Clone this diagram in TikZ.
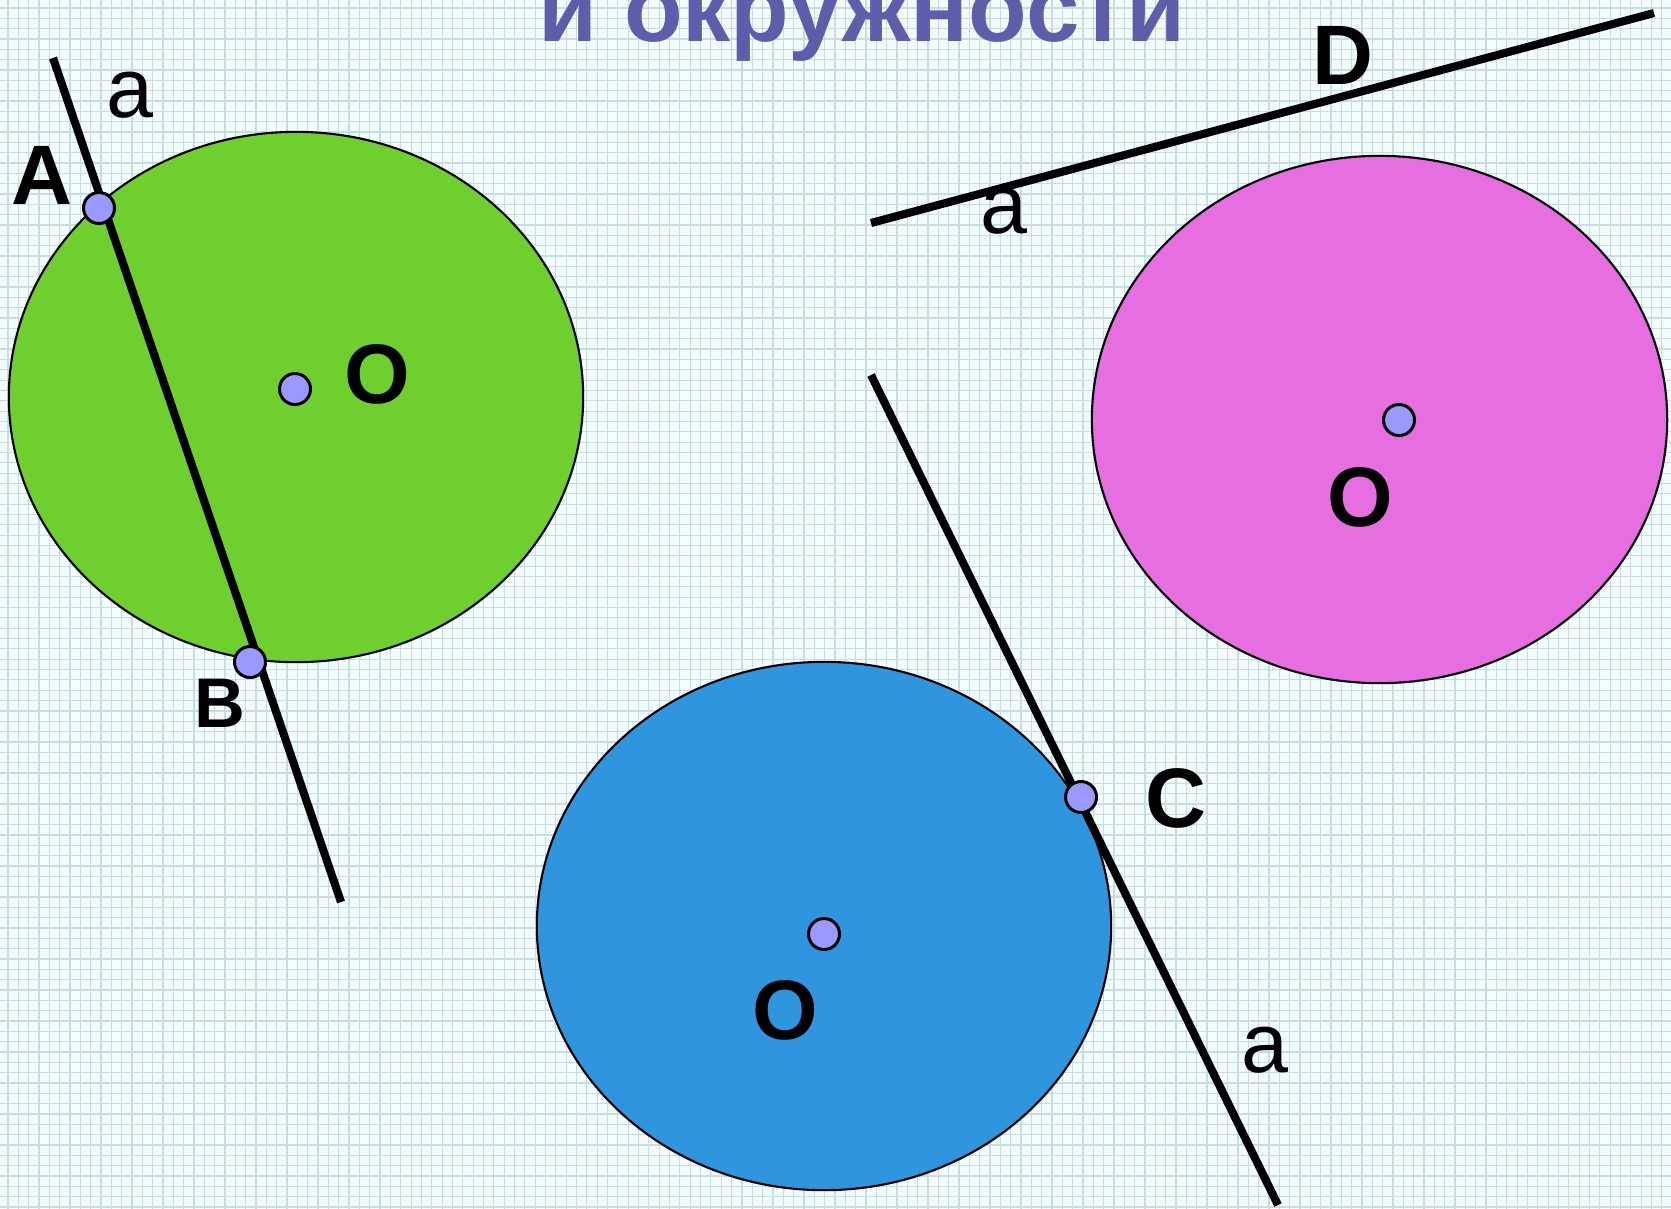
\documentclass[tikz,border=0pt]{standalone}
\usepackage{fontspec}
\setmainfont{Liberation Sans}
\definecolor{bgc}{RGB}{242,252,252}
\definecolor{gridc}{RGB}{198,222,224}
\definecolor{greenc}{RGB}{111,207,46}
\definecolor{pinkc}{RGB}{230,110,224}
\definecolor{bluec}{RGB}{47,149,223}
\definecolor{dotc}{RGB}{153,153,255}
\definecolor{titlec}{RGB}{92,94,172}
\begin{document}
\begin{tikzpicture}[x=0.01cm,y=-0.01cm,
  circ/.style={draw=black,line width=0.6pt},
  aline/.style={draw=black,line width=2.3pt},
  ptdot/.style={circle,draw=black,line width=0.85pt,fill=dotc,minimum size=0.31cm,inner sep=0pt},
  bigl/.style={font=\bfseries\fontsize{24}{28}\selectfont,inner sep=0pt},
  smalll/.style={font=\bfseries\fontsize{20}{24}\selectfont,inner sep=0pt},
  alabel/.style={font=\fontsize{24}{28}\selectfont,inner sep=0pt}]
\useasboundingbox (0,0) rectangle (1671,1208);
\clip (0,0) rectangle (1671,1208);
\fill[bgc] (0,0) rectangle (1671,1208);
\begin{scope}[shift={(8,8)}]
\draw[gridc,line width=0.35pt,step=0.1033cm] (-20,-20) grid (1680,1220);
\end{scope}
% title (cut off at the top edge, as in the original)
\node[text=titlec,font=\bfseries\fontsize{27.3}{31}\selectfont,anchor=base,inner sep=0pt] (title) at (862,41) {и окружности};
% circles
\draw[circ,fill=greenc] (296,397) ellipse [x radius=2.87cm, y radius=2.65cm];
\draw[circ,fill=pinkc] (1379.5,419.5) ellipse [x radius=2.875cm, y radius=2.635cm];
\draw[circ,fill=bluec] (824,926) ellipse [x radius=2.87cm, y radius=2.64cm];
% lines
\coordinate (l1s) at (53,58);
\coordinate (l1e) at (341,902);
\coordinate (l2s) at (871,223);
\coordinate (l2e) at (1654,13);
\coordinate (l3s) at (871,375);
\coordinate (l3e) at (1278,1205);
\draw[aline] (l1s) -- (l1e);
\draw[aline] (l2s) -- (l2e);
\draw[aline] (l3s) -- (l3e);
% points
\node[ptdot] (A) at (99,208) {};
\node[ptdot] (B) at (250,662) {};
\node[ptdot] (O1) at (295,389) {};
\node[ptdot] (O2) at (1399,420) {};
\node[ptdot] (O3) at (824,934) {};
\node[ptdot] (C) at (1081,797) {};
% labels
\node[bigl] (lA) at (42,175) {A};
\node[smalll] (lB) at (220,703) {B};
\node[bigl] (lO1) at (377,374) {O};
\node[bigl] (lC) at (1176,798) {C};
\node[bigl] (lD) at (1343,55) {D};
\node[bigl] (lO2) at (1360,497) {O};
\node[bigl] (lO3) at (785,1010) {O};
\node[alabel] (la1) at (130,95) {a};
\node[alabel] (la2) at (1004,211) {a};
\node[alabel] (la3) at (1265,1050) {a};
\end{tikzpicture}
\end{document}
